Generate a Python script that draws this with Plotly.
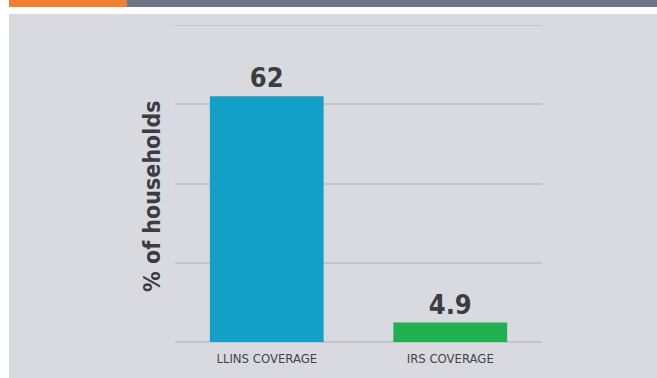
import plotly.graph_objects as go

# Household coverage of malaria interventions
categories = ["LLINS COVERAGE", "IRS COVERAGE"]
values = [62, 4.9]
value_labels = ["62", "4.9"]
bar_colors = ["#12a0c6", "#1fb04f"]
y_max = 80
y_title = "% of households"

FONT = "DejaVu Sans Condensed"
W, H = 657, 378
L, R, T, B = 175, 115, 25, 36

fig = go.Figure(
    go.Bar(
        x=categories,
        y=values,
        text=value_labels,
        textposition="outside",
        cliponaxis=False,
        marker=dict(color=bar_colors, line=dict(width=0)),
        textfont=dict(family=FONT, weight="bold", size=27, color="#3c3d40"),
        hoverinfo="skip",
    )
)

def px_x(p):
    return (p - L) / (W - L - R)

def px_y(p):
    return 1 - (p - T) / (H - T - B)

shapes = [
    # white frame around the grey panel
    dict(type="rect", xref="paper", yref="paper", x0=px_x(0), x1=px_x(W),
         y0=px_y(14), y1=px_y(0), fillcolor="white", line=dict(width=0), layer="below"),
    dict(type="rect", xref="paper", yref="paper", x0=px_x(0), x1=px_x(9),
         y0=px_y(H), y1=px_y(0), fillcolor="white", line=dict(width=0), layer="below"),
    # header strip
    dict(type="rect", xref="paper", yref="paper", x0=px_x(9), x1=px_x(127),
         y0=px_y(7), y1=px_y(0), fillcolor="#f07f2f", line=dict(width=0), layer="below"),
    dict(type="rect", xref="paper", yref="paper", x0=px_x(127), x1=px_x(W),
         y0=px_y(7), y1=px_y(0), fillcolor="#6d7589", line=dict(width=0), layer="below"),
    # top gridline at the axis maximum
    dict(type="line", xref="paper", yref="y", x0=0, x1=1, y0=y_max, y1=y_max,
         line=dict(color="#c4c5ca", width=2), layer="below"),
]

fig.update_layout(
    width=W, height=H,
    margin=dict(l=L, r=R, t=T, b=B),
    paper_bgcolor="#d9dadf",
    plot_bgcolor="#d9dadf",
    bargap=0.38,
    showlegend=False,
    shapes=shapes,
    annotations=[
        dict(text=y_title, textangle=-90, xref="paper", yref="paper",
             x=px_x(152), y=px_y(196), xanchor="center", yanchor="middle",
             showarrow=False,
             font=dict(family=FONT, weight="bold", size=23, color="#3c3d40")),
    ],
    xaxis=dict(
        showgrid=False, zeroline=False, showline=False, ticks="",
        ticklabelstandoff=7,
        tickfont=dict(family=FONT, size=13, color="#444548"),
    ),
    yaxis=dict(
        range=[0, y_max], dtick=20, showticklabels=False, ticks="",
        showgrid=True, gridcolor="#c4c5ca", gridwidth=2,
        zeroline=True, zerolinecolor="#c4c5ca", zerolinewidth=2,
    ),
)

fig.write_html("out.html")
